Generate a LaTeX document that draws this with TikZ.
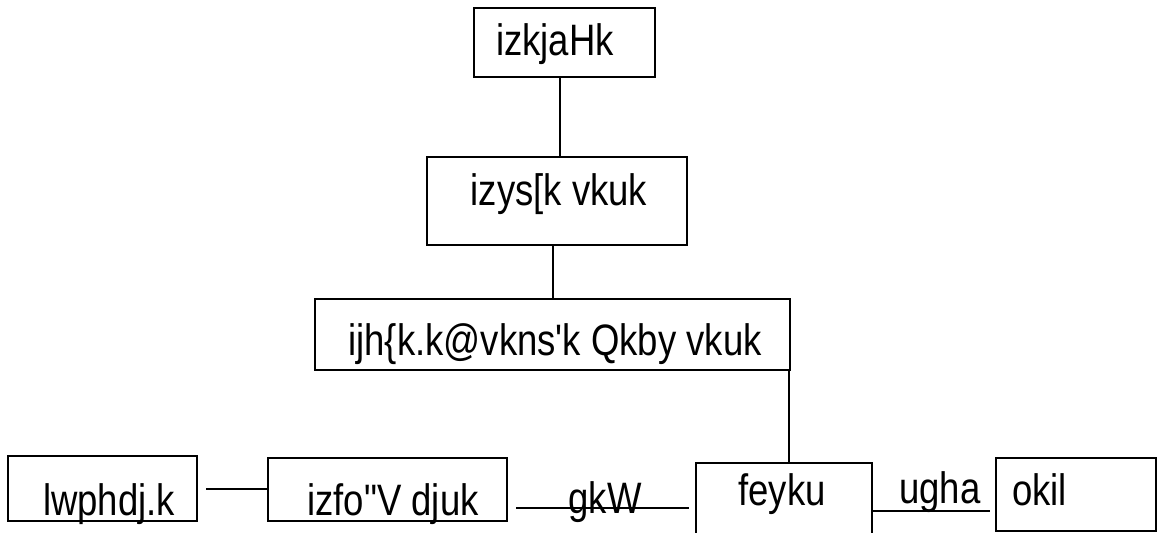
\documentclass[tikz,border=0pt]{standalone}
\usepackage{fontspec}
\newfontfamily\kd[FakeStretch=0.83]{Liberation Sans}
\tikzset{
  box/.style={draw=black, line width=2pt, rectangle, inner sep=0pt},
  txt/.style={inner sep=0pt, font=\kd\fontsize{44}{50}\selectfont, text=black},
  conn/.style={draw=black, line width=2pt},
}
\begin{document}
\begin{tikzpicture}[x=1pt,y=-1pt]
\useasboundingbox (0,0) rectangle (1160,533);
\clip (0,0) rectangle (1160,533);
\fill[white] (0,0) rectangle (1160,533);
% boxes
\node[box, minimum width=181pt, minimum height=69pt] (b1) at (564.5,42.5) {};
\node[box, minimum width=260pt, minimum height=88pt] (b2) at (557,201) {};
\node[box, minimum width=475pt, minimum height=71pt] (b3) at (552.5,334.5) {};
\node[box, minimum width=189pt, minimum height=65pt] (l) at (102.5,488.5) {};
\node[box, minimum width=239pt, minimum height=63pt] (p) at (387.5,489.5) {};
\node[box, minimum width=176pt, minimum height=97pt] (m) at (784,511.5) {};
\node[box, minimum width=160pt, minimum height=73pt] (o) at (1076,494.5) {};
% texts
\node[txt, anchor=base] (t1) at (555,55) {izkjaHk};
\node[txt, anchor=base] (t2) at (559,205) {izys[k vkuk};
\node[txt, anchor=base] (t3) at (555,355) {ijh\{k.k@vkns'k Qkby vkuk};
\node[txt, anchor=base] (t4) at (109,515) {lwphdj.k};
\node[txt, anchor=base] (t5) at (393,515) {izfo"V djuk};
\node[txt, anchor=base] (t6) at (782,505) {feyku};
\node[txt, anchor=base west] (t7) at (1012,505) {okil};
% connectors
\draw[conn] ([xshift=-5pt]b1.south) -- ([xshift=-5pt]b1.south |- b2.north);
\draw[conn] (b2.south -| b3.north) -- (b3.north);
\draw[conn] ([xshift=-2pt]b3.south east) -- ([xshift=-2pt]b3.south east |- m.north);
\draw[conn] ([xshift=8pt]l.east) -- (p.west |- l.east);
\coordinate (a1) at (516,508);
\coordinate (a2) at (689,508);
\coordinate (c1) at (873,511);
\coordinate (c2) at (990,511);
\draw[conn] (a1) -- (a2);
\draw[conn] (c1) -- (c2);
\node[txt, anchor=base] (lab1) at (605,513) {gkW};
\node[txt, anchor=base] (lab2) at (940,503) {ugha};
\end{tikzpicture}
\end{document}
